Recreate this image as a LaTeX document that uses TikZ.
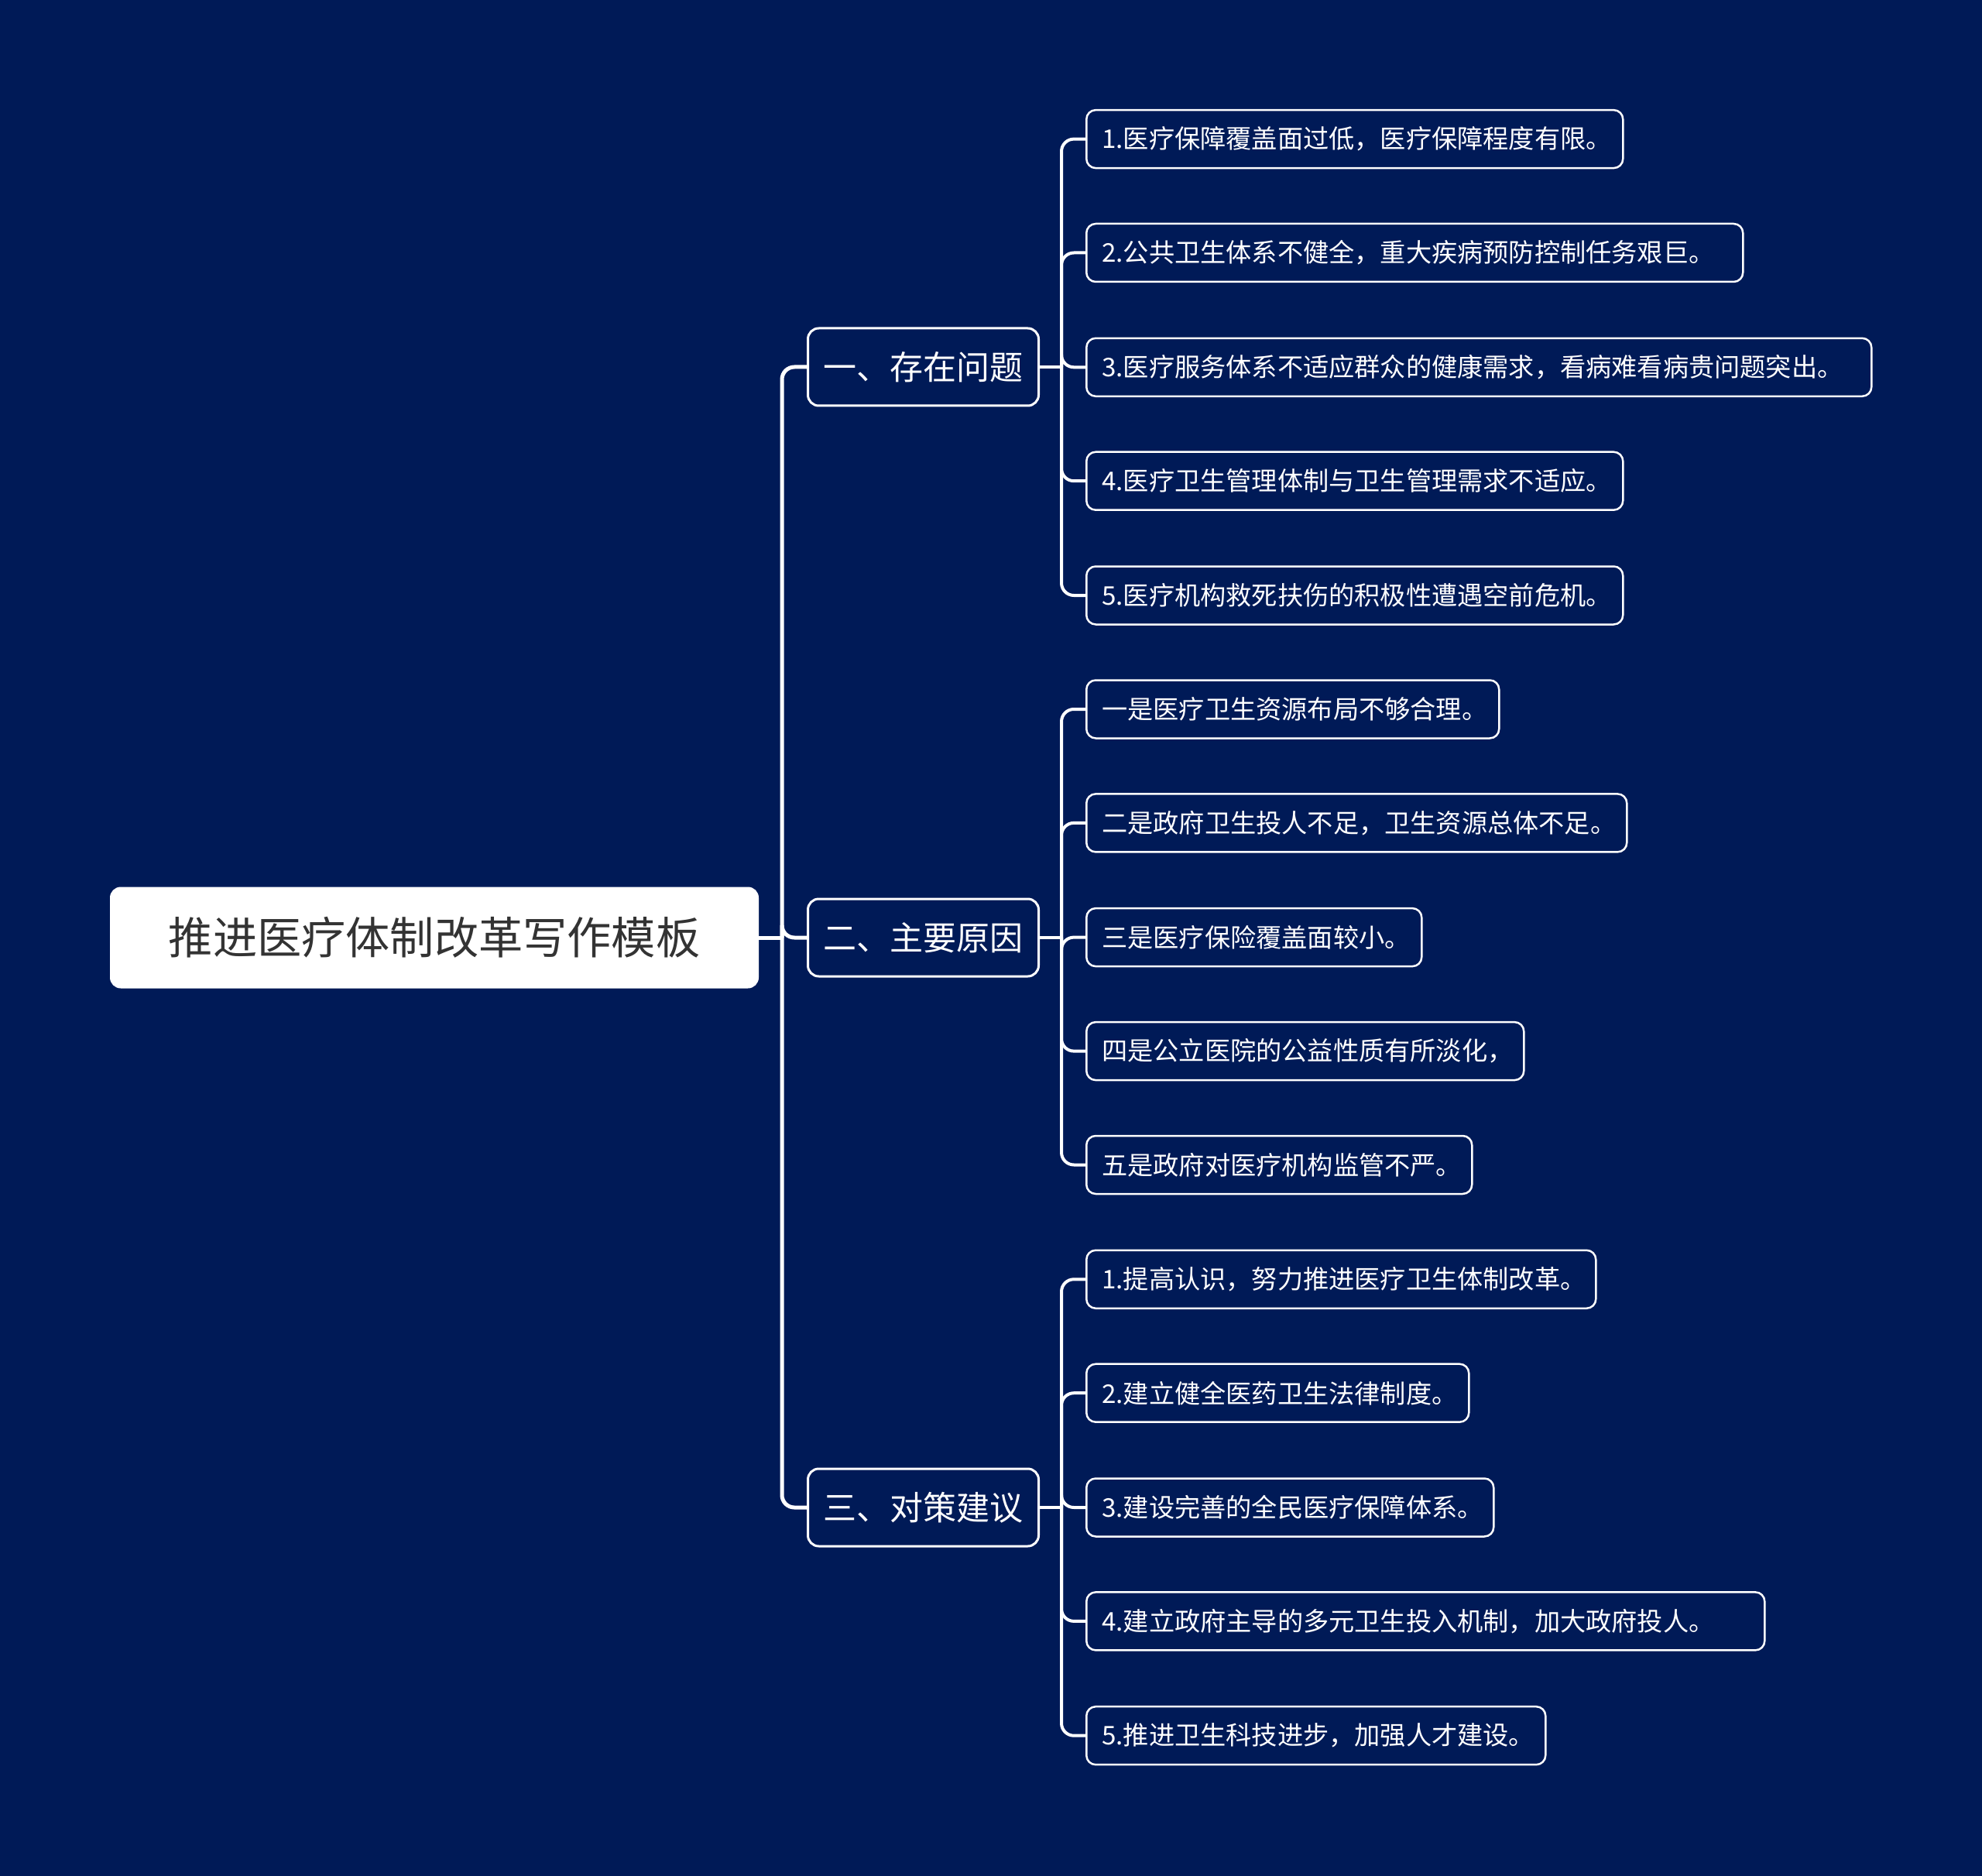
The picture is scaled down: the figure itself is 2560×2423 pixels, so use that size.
\documentclass[tikz,border=0pt]{standalone}
\usepackage{fontspec}
\newfontfamily\cjk{Noto Sans CJK SC}
\definecolor{bgc}{HTML}{001A57}
\definecolor{roottext}{HTML}{333333}
\begin{document}
\begin{tikzpicture}[x=0.5pt,y=-0.5pt,
  rootbox/.style={draw=none,fill=white,rounded corners=7pt,minimum width=419pt,minimum height=65.5pt,inner sep=0pt,font=\cjk\fontsize{28.6pt}{28.6pt}\selectfont,text=roottext},
  branchbox/.style={draw=white,line width=1.5pt,fill=bgc,rounded corners=7pt,minimum height=50pt,inner xsep=10pt,inner ysep=0pt,anchor=west,font=\cjk\fontsize{21.5pt}{21.5pt}\selectfont,text=white},
  leafbox/.style={draw=white,line width=1.25pt,fill=bgc,rounded corners=6pt,minimum height=37.5pt,inner xsep=10pt,inner ysep=0pt,anchor=west,align=left,text width=#1*0.5pt-20pt,font=\cjk\fontsize{16.6pt}{16.6pt}\selectfont,text=white},
  trunk/.style={draw=white,line width=2.5pt,rounded corners=8pt},
  twig/.style={draw=white,line width=2pt,rounded corners=8pt}]
\fill[bgc] (0,0) rectangle (2560,2423);
\useasboundingbox (0,0) rectangle (2560,2423);

\node[rootbox] (root) at (561,1211) {推进医疗体制改革写作模板};

\node[branchbox] (b1) at (1042,474) {一、存在问题};
\node[branchbox] (b2) at (1042,1211) {二、主要原因};
\node[branchbox] (b3) at (1042,1947) {三、对策建议};

\node[leafbox=693] (l1) at (1402,179.6) {1.医疗保障覆盖面过低，医疗保障程度有限。};
\node[leafbox=848] (l2) at (1402,326.5) {2.公共卫生体系不健全，重大疾病预防控制任务艰巨。};
\node[leafbox=1014] (l3) at (1402,474.3) {3.医疗服务体系不适应群众的健康需求，看病难看病贵问题突出。};
\node[leafbox=693] (l4) at (1402,621.2) {4.医疗卫生管理体制与卫生管理需求不适应。};
\node[leafbox=693] (l5) at (1402,769) {5.医疗机构救死扶伤的积极性遭遇空前危机。};

\node[leafbox=533] (m1) at (1402,916) {一是医疗卫生资源布局不够合理。};
\node[leafbox=698] (m2) at (1402,1062.9) {二是政府卫生投人不足，卫生资源总体不足。};
\node[leafbox=433] (m3) at (1402,1210.6) {三是医疗保险覆盖面较小。};
\node[leafbox=565] (m4) at (1402,1357.6) {四是公立医院的公益性质有所淡化，};
\node[leafbox=498] (m5) at (1402,1504.5) {五是政府对医疗机构监管不严。};

\node[leafbox=658] (n1) at (1402,1652.3) {1.提高认识，努力推进医疗卫生体制改革。};
\node[leafbox=494] (n2) at (1402,1799.2) {2.建立健全医药卫生法律制度。};
\node[leafbox=526] (n3) at (1402,1947) {3.建设完善的全民医疗保障体系。};
\node[leafbox=876] (n4) at (1402,2093.9) {4.建立政府主导的多元卫生投入机制，加大政府投人。};
\node[leafbox=593] (n5) at (1402,2241.7) {5.推进卫生科技进步，加强人才建设。};

% trunk
\coordinate (tk) at (1010,1211);
\draw[trunk] (root.east) -- (tk);
\foreach \b in {b1,b2,b3} \draw[trunk] (tk) |- (\b.west);

% twigs
\coordinate (s1) at (1371,474);
\coordinate (s2) at (1371,1211);
\coordinate (s3) at (1371,1947);
\draw[twig] (b1.east) -- (s1);
\draw[twig] (b2.east) -- (s2);
\draw[twig] (b3.east) -- (s3);
\foreach \l in {l1,l2,l3,l4,l5} \draw[twig] (s1) |- (\l.west);
\foreach \l in {m1,m2,m3,m4,m5} \draw[twig] (s2) |- (\l.west);
\foreach \l in {n1,n2,n3,n4,n5} \draw[twig] (s3) |- (\l.west);
\end{tikzpicture}
\end{document}
